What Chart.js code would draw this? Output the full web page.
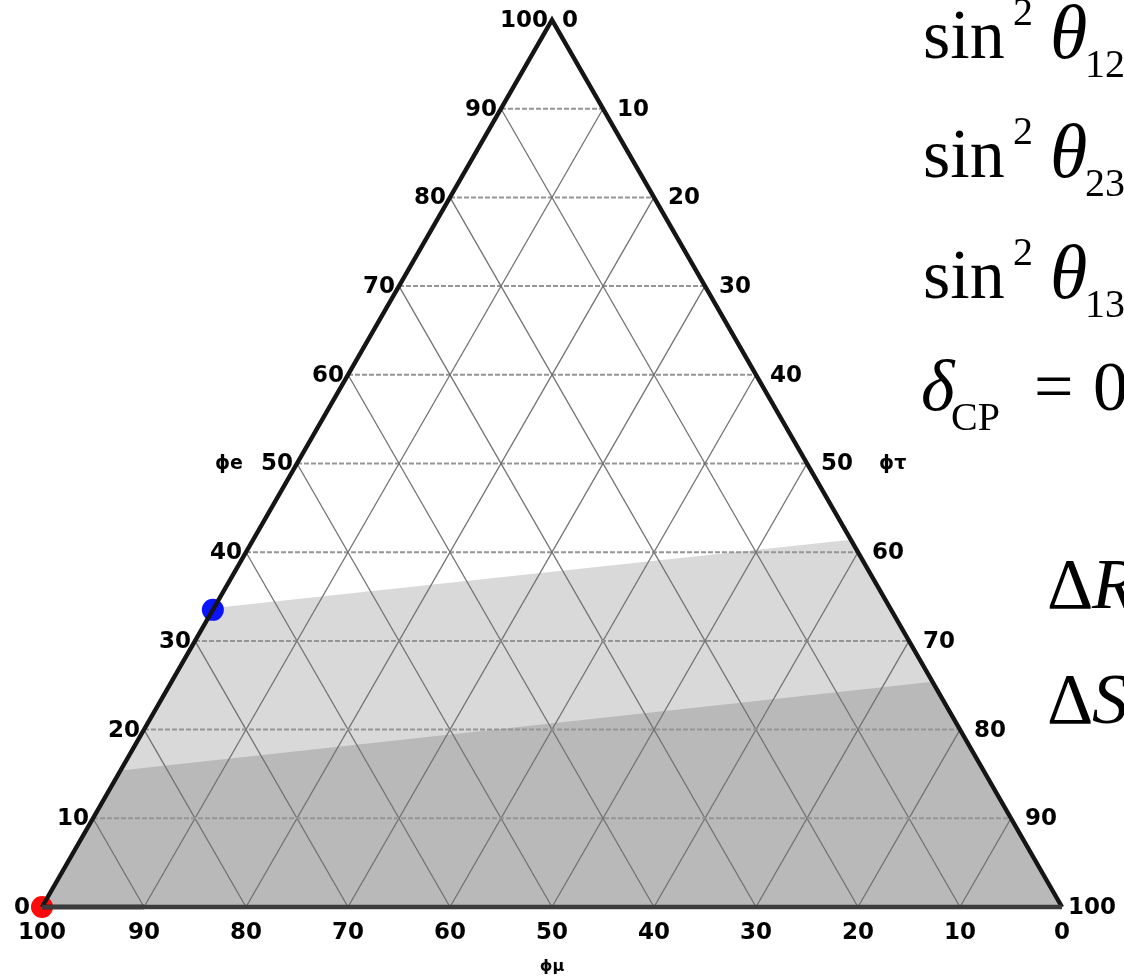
<!DOCTYPE html>
<html>
<head>
<meta charset="utf-8">
<script src="https://cdn.jsdelivr.net/npm/chart.js@4.4.1/dist/chart.umd.min.js"></script>
<style>
  html, body { margin: 0; padding: 0; background: #fff; }
  #wrap { width: 1124px; height: 978px; }
</style>
</head>
<body>
<div id="wrap"><canvas id="ternary" width="1124" height="978"></canvas></div>
<script>
// Ternary axes: every composition is [phiE, phiMu, phiTau] in percent
const ticks = [0, 10, 20, 30, 40, 50, 60, 70, 80, 90, 100];
const gridSteps = [10, 20, 30, 40, 50, 60, 70, 80, 90];

// shaded bands (upper boundary on the left edge, on the right edge, then the base corners)
const lightBand = [[33.7, 66.3, 0], [41.4, 0, 58.6], [0, 0, 100], [0, 100, 0]];
const darkBand = [[15.4, 84.6, 0], [25.4, 0, 74.6], [0, 0, 100], [0, 100, 0]];

// marked flavour compositions
const bluePoint = [33.5, 66.5, 0];
const redPoint = [0, 100, 0];

// triangle corners
const corners = [[0, 100, 0], [0, 0, 100], [100, 0, 0]];

function toXY(c) {
  const [e, mu, tau] = c;
  return { x: tau + e / 2, y: e };
}

function lineSet(a, b, color, width, dash) {
  return {
    data: [toXY(a), toXY(b)],
    showLine: true,
    pointRadius: 0,
    borderColor: color,
    borderWidth: width,
    borderDash: dash || [],
    fill: false,
    clip: false,
    order: 3
  };
}

const datasets = [];

datasets.push({
  data: lightBand.map(toXY), showLine: true, pointRadius: 0, borderWidth: 0,
  backgroundColor: '#d9d9d9', fill: 'shape', clip: false, order: 5
});
datasets.push({
  data: darkBand.map(toXY), showLine: true, pointRadius: 0, borderWidth: 0,
  backgroundColor: '#b9b9b9', fill: 'shape', clip: false, order: 4
});

gridSteps.forEach(t => {
  // constant phiE: horizontal, dashed
  datasets.push(lineSet([t, 100 - t, 0], [t, 0, 100 - t], '#959595', 2, [5, 2]));
  // constant phiTau: parallel to the left side
  datasets.push(lineSet([0, 100 - t, t], [100 - t, 0, t], '#727272', 1.3));
  // constant phiMu: parallel to the right side
  datasets.push(lineSet([0, t, 100 - t], [100 - t, t, 0], '#727272', 1.3));
});

datasets.push({
  data: [toXY(bluePoint)], pointRadius: 11, pointBackgroundColor: '#0a14ff',
  pointBorderWidth: 0, clip: false, order: 2
});
datasets.push({
  data: [toXY(redPoint)], pointRadius: 11, pointBackgroundColor: '#ff0a0a',
  pointBorderWidth: 0, clip: false, order: 2
});

// outline: base in dark grey, sides in black, plus the solid start of the base
datasets.push(Object.assign(lineSet(corners[0], corners[1], '#3c3c3c', 4.5), { order: 1 }));
datasets.push(Object.assign(lineSet([0, 100, 0], [0, 90, 10], '#000', 4.5), { order: 1 }));
datasets.push({
  data: [toXY(corners[1]), toXY(corners[2]), toXY(corners[0])],
  showLine: true, pointRadius: 0, borderColor: '#151515', borderWidth: 4.5,
  borderJoinStyle: 'miter', fill: false, clip: false, order: 1
});

const tickFont = 'bold 23px "DejaVu Sans", Verdana, sans-serif';
const titleFont = 'bold 19px "DejaVu Sans", Verdana, sans-serif';

const axisLabels = {
  id: 'axisLabels',
  afterDatasetsDraw(chart) {
    const { ctx, scales: { x, y } } = chart;
    const px = c => {
      const p = toXY(c);
      return { x: x.getPixelForValue(p.x), y: y.getPixelForValue(p.y) };
    };
    ctx.save();
    ctx.fillStyle = '#000';
    ctx.font = tickFont;
    ctx.textBaseline = 'middle';

    // phiE along the left side
    ctx.textAlign = 'right';
    ticks.forEach(t => {
      const p = px([t, 100 - t, 0]);
      ctx.fillText(String(t), p.x - (t === 0 ? 12 : 4), p.y + 1);
    });
    // phiTau along the right side
    ctx.textAlign = 'left';
    ticks.forEach(t => {
      const p = px([100 - t, 0, t]);
      const off = t === 0 ? 10 : (t === 100 ? 6 : 14);
      ctx.fillText(String(t), p.x + off, p.y + 1);
    });
    // phiMu along the base
    ctx.textAlign = 'center';
    ticks.forEach(t => {
      const p = px([0, t, 100 - t]);
      ctx.fillText(String(t), p.x, p.y + 26);
    });

    // axis titles
    const w50 = ctx.measureText('50').width;
    ctx.font = titleFont;
    const pl = px([50, 50, 0]);
    ctx.textAlign = 'right';
    ctx.fillText('\u03d5e', pl.x - 4 - w50 - 18, pl.y + 1);
    const pr = px([50, 0, 50]);
    ctx.textAlign = 'left';
    ctx.fillText('\u03d5\u03c4', pr.x + 14 + w50 + 26, pr.y + 1);
    const pb = px([0, 50, 50]);
    ctx.font = 'bold 16px "DejaVu Sans", Verdana, sans-serif';
    ctx.textAlign = 'center';
    ctx.fillText('\u03d5\u03bc', pb.x, pb.y + 60);
    ctx.restore();
  }
};

const serif = '"Liberation Serif", "Times New Roman", serif';

const paramText = {
  id: 'paramText',
  afterDraw(chart) {
    const ctx = chart.ctx;
    ctx.save();
    ctx.fillStyle = '#000';
    ctx.textAlign = 'left';
    ctx.textBaseline = 'alphabetic';
    [['12', 58], ['23', 177], ['13', 298]].forEach(([sub, base]) => {
      ctx.font = '70px ' + serif;
      ctx.fillText('sin', 923, base);
      ctx.font = '40px ' + serif;
      ctx.fillText('2', 1013, base - 33);
      ctx.font = 'italic 76px ' + serif;
      ctx.fillText('\u03b8', 1050, base);
      ctx.font = '40px ' + serif;
      ctx.fillText(sub, 1085, base + 19);
    });
    ctx.font = 'italic 72px ' + serif;
    ctx.fillText('\u03b4', 921, 410);
    ctx.font = '40px ' + serif;
    ctx.fillText('CP', 951, 430);
    ctx.font = '70px ' + serif;
    ctx.fillText('=', 1034, 410);
    ctx.fillText('0', 1093, 410);

    [['R', 608], ['S', 723]].forEach(([sym, base]) => {
      ctx.font = '72px ' + serif;
      ctx.fillText('\u0394', 1047, base);
      ctx.font = 'italic 72px ' + serif;
      ctx.fillText(sym, 1092, base);
    });
    ctx.restore();
  }
};

new Chart(document.getElementById('ternary').getContext('2d'), {
  type: 'scatter',
  data: { datasets: datasets },
  options: {
    responsive: false,
    animation: false,
    layout: { padding: { left: 42, right: 62, top: 20, bottom: 71 } },
    scales: {
      x: { type: 'linear', min: 0, max: 100, display: false },
      y: { type: 'linear', min: 0, max: 100, display: false }
    },
    plugins: {
      legend: { display: false },
      tooltip: { enabled: false }
    }
  },
  plugins: [axisLabels, paramText]
});
</script>
</body>
</html>
